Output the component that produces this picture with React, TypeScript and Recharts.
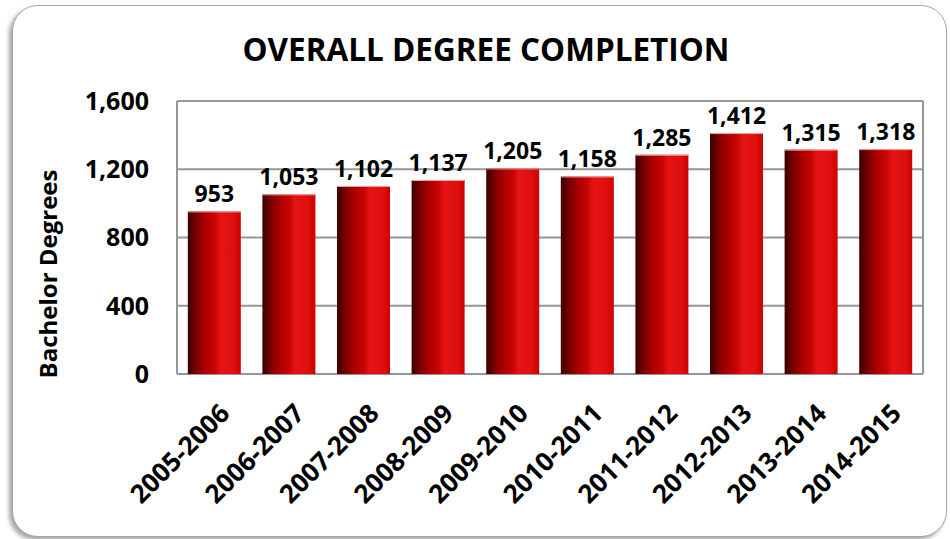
import { BarChart, Bar, XAxis, YAxis, CartesianGrid, LabelList } from "recharts";

const years = [
  "2005-2006", "2006-2007", "2007-2008", "2008-2009", "2009-2010",
  "2010-2011", "2011-2012", "2012-2013", "2013-2014", "2014-2015",
];
const degrees = [953, 1053, 1102, 1137, 1205, 1158, 1285, 1412, 1315, 1318];
const yTicks = [0, 400, 800, 1200, 1600];

const data = years.map((year, i) => ({ year, degrees: degrees[i] }));

const font = "'Open Sans', sans-serif";

const fmt = (v: number) => v.toLocaleString("en-US");

function YearTick({ x, y, payload }: any) {
  return (
    <g transform={`translate(${x + 17},${y + 41})`}>
      <text
        x={0}
        y={0}
        textAnchor="end"
        transform="rotate(-45)"
        fontFamily={font}
        fontWeight={700}
        fontSize={26}
        fill="#000"
      >
        {payload.value}
      </text>
    </g>
  );
}

function CylBar({ x, y, width, height }: any) {
  if (!height || height <= 0) return null;
  return (
    <g>
      <rect x={x} y={y} width={width} height={height} fill="url(#cyl)" />
      <line x1={x} x2={x + width} y1={y + 0.5} y2={y + 0.5} stroke="#f2a0a0" strokeWidth={1} />
    </g>
  );
}

export default function App() {
  return (
    <div style={{ position: "absolute", left: 0, top: 0, width: 950, height: 539, background: "#fff" }}>
      <div
        style={{
          position: "absolute",
          left: 12,
          top: 5,
          width: 933,
          height: 530,
          border: "1px solid #a6a6a6",
          borderRadius: 26,
          boxShadow: "-3px 3px 4px rgba(0,0,0,0.35)",
          background: "#fff",
        }}
      />
      <div
        style={{
          position: "absolute",
          left: 0,
          top: 28,
          width: 972,
          textAlign: "center",
          fontFamily: font,
          fontWeight: 700,
          fontSize: 31.5,
          lineHeight: "42px",
          color: "#000",
        }}
      >
        OVERALL DEGREE COMPLETION
      </div>
      <div
        style={{
          position: "absolute",
          left: 47,
          top: 274,
          transform: "translate(-50%, -50%) rotate(-90deg)",
          whiteSpace: "nowrap",
          fontFamily: font,
          fontWeight: 700,
          fontSize: 24,
          color: "#000",
        }}
      >
        Bachelor Degrees
      </div>
      <div style={{ position: "absolute", left: 0, top: 0 }}>
        <BarChart
          width={950}
          height={539}
          data={data}
          margin={{ top: 101, right: 27, bottom: 0, left: 0 }}
          barCategoryGap="14.5%"
        >
          <defs>
            <linearGradient id="cyl" x1="0" y1="0" x2="1" y2="0">
              <stop offset="0%" stopColor="#380000" />
              <stop offset="15%" stopColor="#760000" />
              <stop offset="35%" stopColor="#b00000" />
              <stop offset="50%" stopColor="#c50404" />
              <stop offset="62%" stopColor="#e61414" />
              <stop offset="85%" stopColor="#e01010" />
              <stop offset="100%" stopColor="#cc0202" />
            </linearGradient>
          </defs>
          <CartesianGrid
            stroke="#969696"
            strokeWidth={2}
            verticalCoordinatesGenerator={({ offset }: any) => [offset.left, offset.left + offset.width]}
          />
          <XAxis
            dataKey="year"
            interval={0}
            height={165}
            axisLine={false}
            tickLine={false}
            tickSize={0}
            tickMargin={0}
            tick={<YearTick />}
          />
          <YAxis
            domain={[0, 1600]}
            ticks={yTicks}
            width={177}
            axisLine={false}
            tickLine={false}
            tickSize={0}
            tickMargin={28}
            tickFormatter={fmt}
            tick={{ fontFamily: font, fontWeight: 700, fontSize: 25, fill: "#000" }}
          />
          <Bar dataKey="degrees" shape={<CylBar />} isAnimationActive={false}>
            <LabelList
              dataKey="degrees"
              position="top"
              offset={9}
              formatter={(v: any) => fmt(Number(v))}
              style={{ fontFamily: font, fontWeight: 700, fontSize: 23, fill: "#000" }}
            />
          </Bar>
        </BarChart>
      </div>
    </div>
  );
}
